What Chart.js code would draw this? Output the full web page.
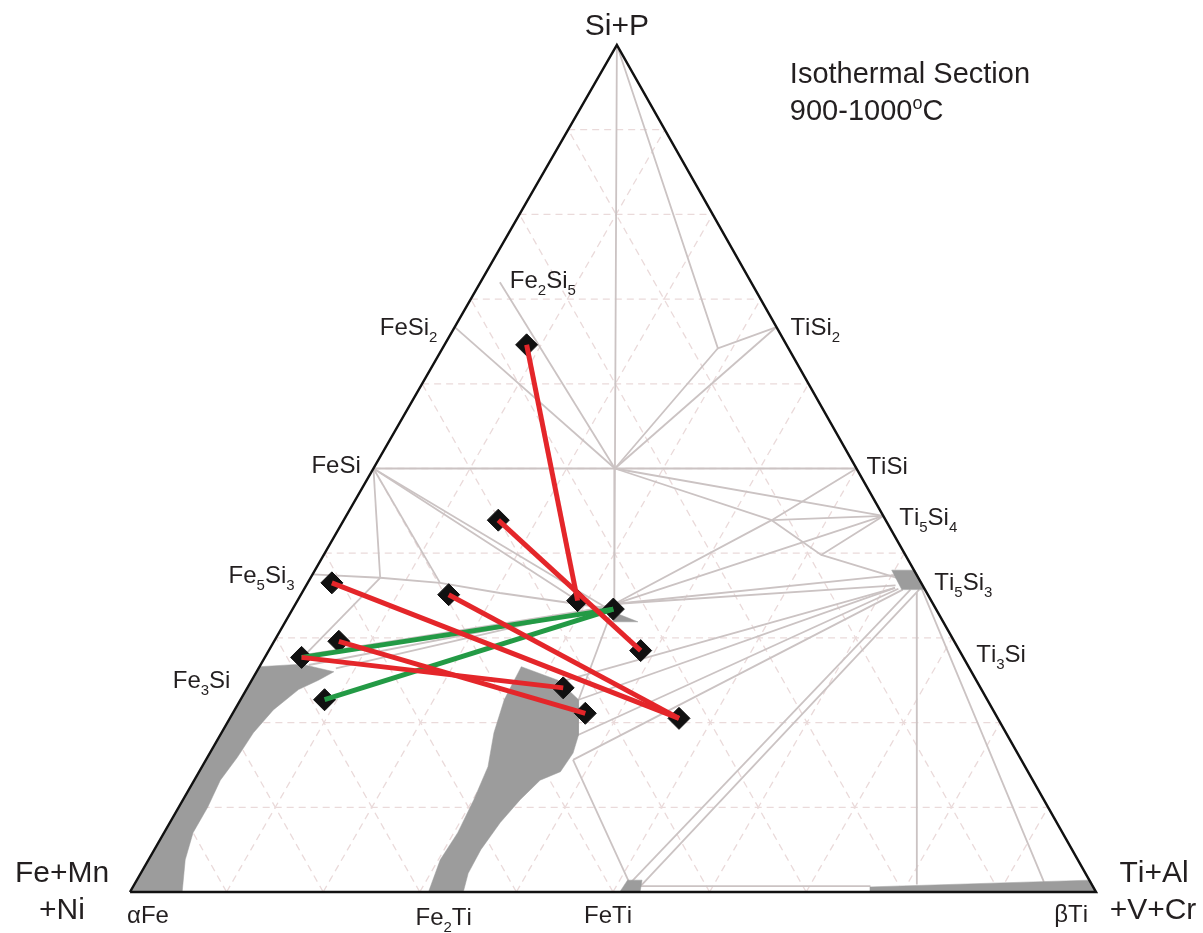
<!DOCTYPE html>
<html lang="en">
<head>
<meta charset="UTF-8">
<title>Isothermal Section 900-1000°C</title>
<script src="https://cdn.jsdelivr.net/npm/chart.js"></script>
<style>
  html, body { margin: 0; padding: 0; background: #fff; }
  #wrap { width: 1203px; height: 933px; }
</style>
</head>
<body>
<div id="wrap"><canvas id="chart" width="1203" height="933"></canvas></div>
<script>
// every composition is [Ti+Al+V+Cr at.%, Si+P at.%]; Fe+Mn+Ni is the rest
const gridTicks = [10, 20, 30, 40, 50, 60, 70, 80, 90];

const phaseNames = ['FeSi_2', 'Fe_2Si_5', 'FeSi', 'Fe_5Si_3', 'Fe_3Si', 'TiSi_2', 'TiSi',
                    'Ti_5Si_4', 'Ti_5Si_3', 'Ti_3Si', 'αFe', 'Fe_2Ti', 'FeTi', 'βTi'];
const phaseComp = [[0, 66.7], [2, 72], [0, 50], [0, 37.5], [0, 25], [33.3, 66.7], [50, 50],
                   [55.6, 44.4], [62.5, 37.5], [75, 25], [0, 0], [33.3, 0], [50, 0], [100, 0]];

// measured alloy compositions (black diamonds)
const alloys = [[8.5, 64.6], [16, 43.9], [2.5, 36.5], [15.3, 35.1], [29, 34.4], [33.2, 33.4],
                [38.5, 28.5], [6.7, 29.6], [3.8, 27.7], [8.7, 22.7], [32.7, 24.1], [36.5, 21.1],
                [46.5, 20.5]];
const redPairs = [[0, 4], [1, 6], [2, 12], [3, 12], [7, 11], [8, 10]];
const greenPairs = [[8, 5], [9, 5]];

// phase boundaries and tie lines
const upperLines = [
  [[0, 100], [25, 50], [33, 34]],
  [[0, 100], [28.5, 64.2], [33.3, 66.7]],
  [[28.5, 64.2], [25, 50]],
  [[33.3, 66.7], [25, 50]],
  [[2, 72], [25, 50]],
  [[0, 66.7], [25, 50]],
  [[0, 50], [50, 50]]
];
const feSideLines = [
  [[0, 50], [29, 34.4]],
  [[0, 50], [32.5, 33.5]],
  [[0, 50], [13.7, 36.5]],
  [[0, 50], [7.2, 37.1]],
  [[0, 37.5], [7.2, 37.1], [13.7, 36.5], [20.5, 35.3], [32.5, 33.5]],
  [[4, 28], [7.2, 37.1]],
  [[8, 26.4], [33, 34]],
  [[5, 26.8], [32.5, 33.6]],
  [[4, 28], [31.8, 33.5]]
];
const tiSideLines = [
  [[50, 50], [44.3, 43.9], [33, 34]],
  [[44.3, 43.9], [55.6, 44.4]],
  [[44.3, 43.9], [51.5, 39.8], [55.6, 44.4]],
  [[51.5, 39.8], [61, 37]],
  [[33, 34], [55.6, 44.4]],
  [[33, 34], [61, 37.5]],
  [[33, 34], [61, 36.2]],
  [[25, 50], [44.3, 43.9]],
  [[25, 50], [55.6, 44.4]]
];
const lowerLines = [
  [[61.1, 35.9], [32, 24.8]],
  [[61.1, 35.9], [35, 22.7]],
  [[61.5, 35.8], [37, 18.5]],
  [[62, 35.7], [38, 15.6]],
  [[38, 15.6], [51.5, 0.7]],
  [[63.7, 35.7], [52.5, 0.7]],
  [[62.8, 35.7], [51.2, 0.9]],
  [[52, 0.7], [76.3, 0.7]],
  [[63.6, 35.4], [81, 0.9]],
  [[64, 35.7], [94, 1.2]],
  [[33, 34], [35, 22.7]]
];

// single phase fields (grey)
const alphaFeField = [[0, 0], [0, 26.6], [4.2, 26.9], [8, 26], [6.9, 25], [5.4, 23.9], [4, 21.5],
                      [3.3, 18.8], [3.1, 15.9], [2.7, 13.2], [3, 10], [3, 7], [3.8, 3.8], [5.4, 0]];
const fe2TiField = [[30.9, 0], [30.2, 3.8], [30.4, 7], [30.1, 10.9], [29.6, 14.8], [28.2, 18.8],
                    [27.3, 22.7], [27.1, 26.6], [31.7, 25], [35, 22.7], [37.1, 18.5], [37.6, 16.4],
                    [37.4, 14.2], [35.8, 13.2], [34.9, 10.9], [34.2, 8.2], [33.8, 5], [33.9, 2.2], [34.5, 0]];
const feTiField = [[50.7, 0], [50.8, 1.4], [52.3, 1.4], [52.8, 0]];
const ti5si3Field = [[59.7, 38], [62.1, 38], [64.3, 35.7], [61.9, 35.7]];
const clusterField = [[32.7, 33.3], [36.5, 31.9], [34, 31.9]];
const betaTiField = [[76.3, 0.6], [98.7, 1.4], [100, 0], [76.6, 0]];

// the printed triangle leans slightly: apex sits at 50.4 % of the base
const APEX = 0.504;
const toXY = ([t, s]) => ({ x: t + s * APEX, y: s });

const GREY = '#cbc3c3';
const datasets = [];

function addLine(pts, color, width, order, dash) {
  datasets.push({
    type: 'scatter', data: pts.map(toXY), showLine: true, borderColor: color,
    borderWidth: width, pointRadius: 0, borderDash: dash || [], order: order, clip: false
  });
}
function addField(pts) {
  datasets.push({
    type: 'scatter', data: pts.concat([pts[0]]).map(toXY), showLine: true,
    borderColor: '#9c9c9c', borderWidth: 0.5, backgroundColor: '#9c9c9c',
    fill: 'shape', pointRadius: 0, order: 5, clip: false
  });
}

// dashed composition grid
gridTicks.forEach(k => {
  addLine([[0, k], [100 - k, k]], '#eadada', 1.3, 8, [7, 5]);
  addLine([[k, 0], [k, 100 - k]], '#eadada', 1.3, 8, [7, 5]);
  addLine([[100 - k, 0], [0, 100 - k]], '#eadada', 1.3, 8, [7, 5]);
});
[upperLines, feSideLines, tiSideLines, lowerLines].forEach(group =>
  group.forEach(l => addLine(l, GREY, 1.8, 6)));
[alphaFeField, fe2TiField, feTiField, ti5si3Field, clusterField, betaTiField].forEach(addField);

// triangle outline
addLine([[0, 0], [100, 0], [0, 100], [0, 0]], '#111', 2.5, 4);

// diamonds
datasets.push({
  type: 'scatter', data: alloys.map(toXY), pointStyle: 'rectRot', pointRadius: 11,
  backgroundColor: '#111', borderColor: '#111', borderWidth: 1, order: 3, clip: false
});
greenPairs.forEach(([a, b]) => addLine([alloys[a], alloys[b]], '#239a45', 5, 2));
redPairs.forEach(([a, b]) => addLine([alloys[a], alloys[b]], '#e4262a', 5, 1));

// text with _sub and ^sup characters
function richText(ctx, str, x, y, size, align) {
  const parts = [];
  for (let i = 0; i < str.length; i++) {
    const c = str[i];
    if ((c === '_' || c === '^') && i + 1 < str.length) { parts.push({ t: str[i + 1], k: c }); i++; }
    else parts.push({ t: c, k: '' });
  }
  const small = Math.round(size * 0.62);
  let w = 0;
  parts.forEach(p => {
    ctx.font = (p.k ? small : size) + 'px "Liberation Sans", Arial, sans-serif';
    p.w = ctx.measureText(p.t).width;
    w += p.w;
  });
  let cx = align === 'center' ? x - w / 2 : align === 'right' ? x - w : x;
  ctx.textAlign = 'left';
  ctx.textBaseline = 'alphabetic';
  parts.forEach(p => {
    ctx.font = (p.k ? small : size) + 'px "Liberation Sans", Arial, sans-serif';
    const dy = p.k === '_' ? size * 0.28 : p.k === '^' ? -size * 0.38 : 0;
    ctx.fillText(p.t, cx, y + dy);
    cx += p.w;
  });
}

// label placement: pixel offset from the phase point, alignment, size
const labelPlace = {
  'FeSi_2': [-75, 8, 'left', 24], 'Fe_2Si_5': [10, 6, 'left', 24], 'FeSi': [-62, 4, 'left', 24],
  'Fe_5Si_3': [-84, 9, 'left', 24], 'Fe_3Si': [-79, 8, 'left', 24], 'TiSi_2': [14, 8, 'left', 24],
  'TiSi': [10, 5, 'left', 24], 'Ti_5Si_4': [16, 9, 'left', 24], 'Ti_5Si_3': [18, 16, 'left', 24],
  'Ti_3Si': [0, -18, 'left', 24], 'αFe': [-3, 31, 'left', 24], 'Fe_2Ti': [-8, 33, 'center', 24],
  'FeTi': [-5, 31, 'center', 24], 'βTi': [-8, 30, 'right', 24]
};

const labelPlugin = {
  id: 'labels',
  afterDatasetsDraw(chart) {
    const { ctx, scales: { x, y } } = chart;
    const px = c => { const p = toXY(c); return [x.getPixelForValue(p.x), y.getPixelForValue(p.y)]; };
    ctx.save();
    ctx.fillStyle = '#231f20';
    phaseNames.forEach((name, i) => {
      const [dx, dy, align, size] = labelPlace[name];
      const [X, Y] = px(phaseComp[i]);
      richText(ctx, name, X + dx, Y + dy, size, align);
    });
    const [ax, ay] = px([0, 100]);
    const [lx, ly] = px([0, 0]);
    const [rx, ry] = px([100, 0]);
    richText(ctx, 'Si+P', ax, ay - 10, 30, 'center');
    richText(ctx, 'Fe+Mn', lx - 68, ly - 10, 30, 'center');
    richText(ctx, '+Ni', lx - 68, ly + 27, 30, 'center');
    richText(ctx, 'Ti+Al', rx + 58, ry - 10, 30, 'center');
    richText(ctx, '+V+Cr', rx + 57, ry + 27, 30, 'center');
    richText(ctx, 'Isothermal Section', ax + 173, ay + 38, 29, 'left');
    richText(ctx, '900-1000^oC', ax + 173, ay + 75, 29, 'left');
    ctx.restore();
  }
};

new Chart(document.getElementById('chart'), {
  type: 'scatter',
  data: { datasets: datasets },
  options: {
    responsive: false,
    animation: false,
    devicePixelRatio: 1,
    layout: { padding: { left: 130, right: 107, top: 45, bottom: 41 } },
    scales: {
      x: { type: 'linear', min: 0, max: 100, display: false },
      y: { type: 'linear', min: 0, max: 100, display: false }
    },
    plugins: { legend: { display: false }, tooltip: { enabled: false } },
    elements: { line: { tension: 0 } }
  },
  plugins: [labelPlugin]
});
</script>
</body>
</html>
